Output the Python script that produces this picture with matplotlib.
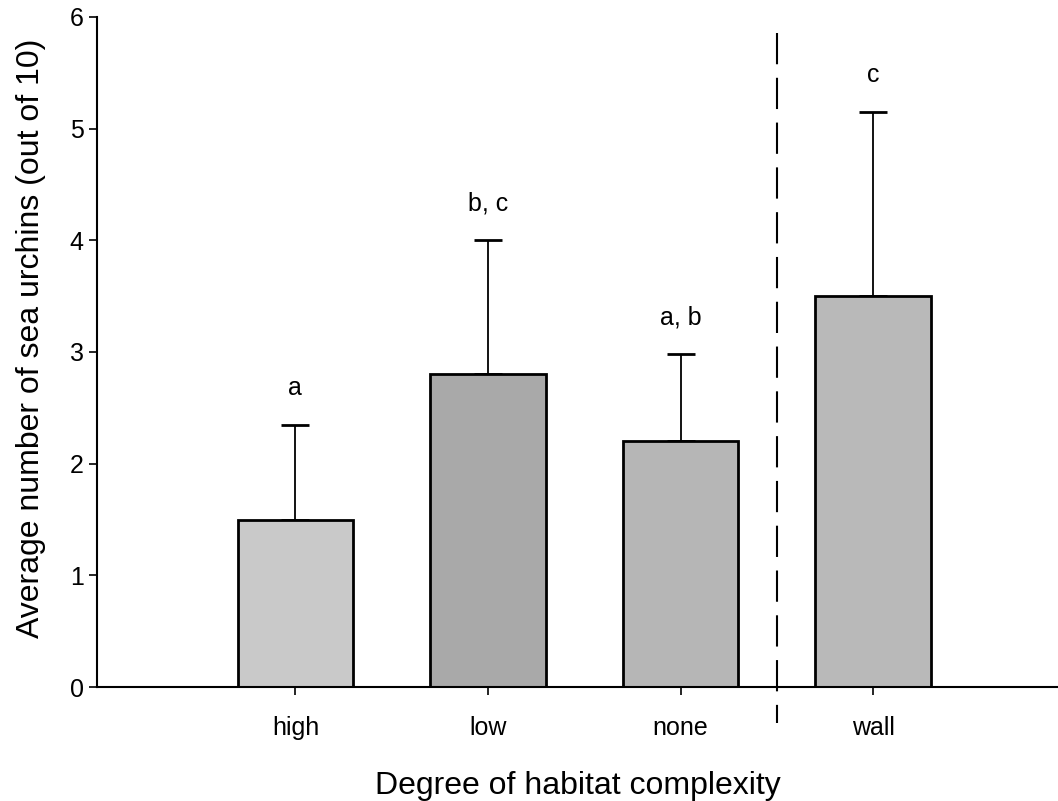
import numpy as np
import matplotlib.pyplot as plt

plt.rcParams['font.family'] = ['Liberation Sans', 'DejaVu Sans']

# data
habitat = ['high', 'low', 'none', 'wall']
mean_urchins = [1.5, 2.8, 2.2, 3.5]
err_upper = [0.85, 1.2, 0.78, 1.65]
letters = ['a', 'b, c', 'a, b', 'c']
bar_grey = ['#c9c9c9', '#a9a9a9', '#b6b6b6', '#b9b9b9']

x = np.arange(len(habitat))

fig = plt.figure(figsize=(10.58, 8.01), dpi=100)
ax = fig.add_axes([0.0917, 0.1423, 0.9083, 0.8365])

ax.bar(x, mean_urchins, width=0.6, color=bar_grey, edgecolor='black', linewidth=2, zorder=2)
ax.errorbar(x, mean_urchins, yerr=[np.zeros(len(x)), err_upper], fmt='none',
            ecolor='black', elinewidth=1.3, capsize=10, capthick=2, zorder=1)

for xi, m, e, lab in zip(x, mean_urchins, err_upper, letters):
    ax.text(xi, m + e + 0.22, lab, ha='center', va='bottom', fontsize=18)

# dashed separator between treatments and wall
ax.plot([2.5, 2.5], [5.86, -0.32], color='black', linestyle=(0, (15, 6.5)),
        linewidth=1.5, clip_on=False)

ax.set_xlim(-1.03, 3.96)
ax.set_ylim(0, 6)
ax.set_xticks(x)
ax.set_xticklabels(habitat)
ax.set_yticks(range(7))
ax.tick_params(direction='out', length=6, width=1.2, labelsize=18)
ax.tick_params(axis='x', pad=15)
ax.spines['top'].set_visible(False)
ax.spines['right'].set_visible(False)
ax.spines['left'].set_linewidth(1.5)
ax.spines['bottom'].set_linewidth(1.5)

ax.set_xlabel('Degree of habitat complexity', fontsize=23, labelpad=22)
ax.set_ylabel('Average number of sea urchins (out of 10)', fontsize=23)
ax.yaxis.set_label_coords(-0.053, 0.52)

fig.savefig('out.png', dpi=100)
